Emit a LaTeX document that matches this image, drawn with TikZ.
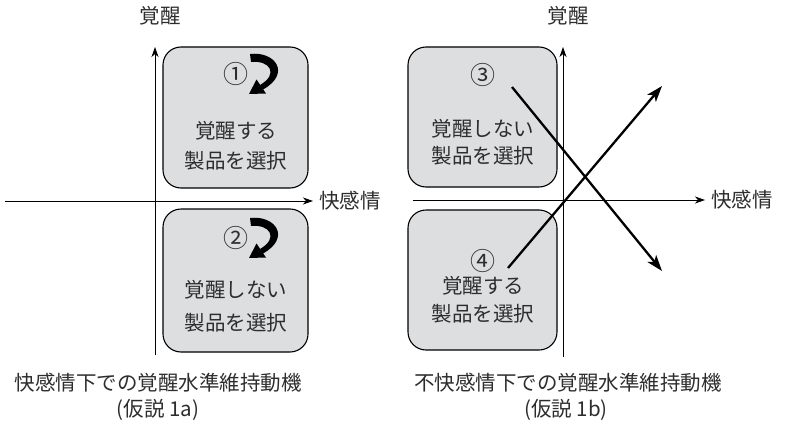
\documentclass[tikz,border=0pt]{standalone}
\usepackage{fontspec}
\setmainfont{Noto Sans CJK JP}
\usetikzlibrary{arrows.meta}
\definecolor{boxgray}{RGB}{221,222,223}
\definecolor{txt}{RGB}{45,45,45}
\tikzset{
  quad/.style={draw=black, line width=1.1pt, fill=boxgray, rounded corners=18pt, inner sep=0pt},
  lbl/.style={inner sep=0pt, text=txt, font=\fontsize{20.5}{24}\selectfont},
  num/.style={inner sep=0pt, text=txt, font=\fontsize{25}{28}\selectfont},
  axis/.style={line width=0.9pt, -{Stealth[length=10pt,width=7pt,inset=3pt]}},
  diag/.style={line width=2.3pt, -{Stealth[length=16pt,width=11pt,inset=4pt]}},
  curvarrow/.pic={
    \fill[black] (14,-20) .. controls (40,-23) and (55,0) .. (27,15.5)
      -- (24,11) .. controls (43,0) and (34,-14) .. (15,-12) -- cycle;
    \fill[black] (13,20) -- (20.5,5.5) -- (30,19.5) -- cycle;
  }
}
\begin{document}
\begin{tikzpicture}[x=1pt,y=-1pt]
\useasboundingbox (0,0) rectangle (789,428);
% ---------- left diagram ----------
\coordinate (lvb) at (155,355);
\coordinate (lvt) at (155,47);
\coordinate (lhl) at (5,201);
\coordinate (lhr) at (313,201);
\draw[axis] (lvb) -- (lvt);
\draw[axis] (lhl) -- (lhr);
\node[lbl] (ly) at (160,16) {覚醒};
\node[lbl, anchor=west] (lx) at (319,201) {快感情};

\node[quad, minimum width=145pt, minimum height=141pt] (b1) at (235.5,117.5) {};
\node[quad, minimum width=145pt, minimum height=143pt] (b2) at (235.5,280.5) {};

\node[num] (n1) at (236,74) {①};
\pic at (n1) {curvarrow};
\node[lbl] (t1a) at (236,131) {覚醒する};
\node[lbl] (t1b) at (236,161) {製品を選択};

\node[num] (n2) at (236,238) {②};
\pic at (n2) {curvarrow};
\node[lbl] (t2a) at (236,290) {覚醒しない};
\node[lbl] (t2b) at (236,323) {製品を選択};

\node[lbl] (cap1) at (158,383) {快感情下での覚醒水準維持動機};
\node[lbl] (cap1b) at (158,410) {(仮説 1a)};

% ---------- right diagram ----------
\coordinate (rvb) at (563,357);
\coordinate (rvt) at (563,47);
\coordinate (rhl) at (413,200);
\coordinate (rhr) at (705,200);
\draw[axis] (rvb) -- (rvt);
\draw[axis] (rhl) -- (rhr);
\node[lbl] (ry) at (568,16) {覚醒};
\node[lbl, anchor=west] (rx) at (711,200) {快感情};

\node[quad, minimum width=149pt, minimum height=140pt] (b3) at (482.5,117) {};
\node[quad, minimum width=149pt, minimum height=140pt] (b4) at (482.5,280) {};

\node[num] (n3) at (483,75) {③};
\node[lbl] (t3a) at (483,129) {覚醒しない};
\node[lbl] (t3b) at (483,156) {製品を選択};

\node[num] (n4) at (483,261) {④};
\node[lbl] (t4a) at (483,286) {覚醒する};
\node[lbl] (t4b) at (483,314) {製品を選択};

\coordinate (d1s) at (512,87);
\coordinate (d1e) at (662,271);
\coordinate (d2s) at (508,268);
\coordinate (d2e) at (662,86);
\draw[diag] (d1s) -- (d1e);
\draw[diag] (d2s) -- (d2e);

\node[lbl] (cap2) at (568,383) {不快感情下での覚醒水準維持動機};
\node[lbl] (cap2b) at (566,410) {(仮説 1b)};
\end{tikzpicture}
\end{document}
